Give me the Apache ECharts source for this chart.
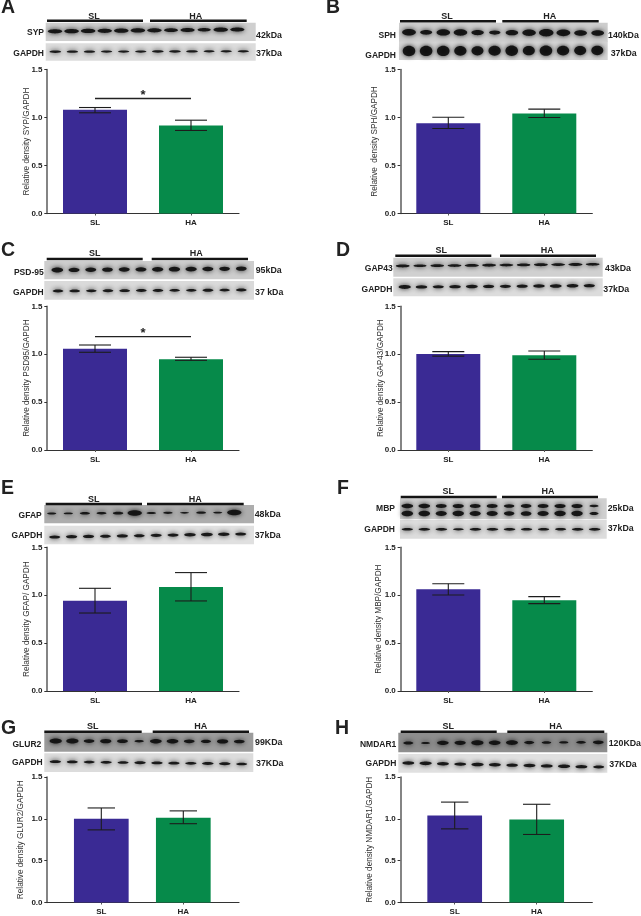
<!DOCTYPE html>
<html><head><meta charset="utf-8">
<script src="https://cdn.jsdelivr.net/npm/echarts@6/dist/echarts.min.js"></script>
<style>html,body{margin:0;padding:0;background:#fff}#c{width:641px;height:916px}</style></head>
<body><div id="c"></div>
<script>
// ---- data ----
const categories = ['SL', 'HA'];
const panelLetters = ['A','B','C','D','E','F','G','H'];
const yTitles = ['Relative density SYP/GAPDH','Relative  density SPH/GAPDH','Relative density PSD95/GAPDH','Relative density GAP43/GAPDH','Relative density GFAP/ GAPDH','Relative density MBP/GAPDH','Relative density GLUR2/GAPDH','Relative density NMDAR1/GAPDH'];
const means = [[1.08,0.917],[0.941,1.042],[1.058,0.947],[1.002,0.988],[0.943,1.086],[1.062,0.947],[1.0,1.013],[1.04,0.993]];
const upper = [[1.104,0.972],[1.003,1.087],[1.096,0.968],[1.027,1.034],[1.072,1.236],[1.12,0.985],[1.13,1.095],[1.2,1.174]];
const lower = [[1.049,0.865],[0.885,1.0],[1.02,0.936],[0.98,0.947],[0.814,0.94],[1.002,0.912],[0.868,0.942],[0.88,0.813]];
const yTicks = ['0.0','0.5','1.0','1.5'];
const sigLevel = [1.198,null,1.183,null,null,null,null,null];
const targets = ['SYP','SPH','PSD-95','GAP43','GFAP','MBP','GLUR2','NMDAR1'];
const targetKda = ['42kDa','140kDa','95kDa','43kDa','48kDa','25kDa','99KDa','120KDa'];
const gapdhKda = ['37kDa','37kDa','37 kDa','37kDa','37kDa','37kDa','37KDa','37KDa'];
// relative band density per lane (read by eye)
const targetBands = [
 [1,1,1,1,1,1,1,.9,.95,.8,1,.95],
 [.9,.65,.85,.85,.7,.55,.7,.85,1,.9,.75,.75],
 [1,.9,.9,.85,.9,.9,.95,.95,.95,.9,.85,.85],
 [.9,.8,.85,.9,.95,.9,.9,.85,.9,.95,.95,.9],
 [.45,.45,.6,.55,.65,1.3,.5,.5,.4,.55,.45,1.3],
 [1,1,.9,.95,.9,.9,.8,.85,.9,.95,.95,.55],
 [.95,.95,.7,.8,.7,.45,.85,.85,.7,.6,.8,.7],
 [.6,.4,.85,.8,.95,.85,.9,.6,.5,.45,.55,.7]];
const gapdhBands = [
 [.85,.8,.8,.8,.8,.8,.85,.85,.85,.75,.8,.8],
 [1,1,1,.95,.9,.95,1,.9,1,.95,.9,.9],
 [.85,.85,.8,.85,.85,.85,.85,.85,.8,.9,.85,.85],
 [1,.9,.85,.9,.95,.85,.85,.85,.9,.95,.95,.85],
 [.85,.85,.85,.8,.85,.8,.85,.85,.9,.95,.9,.85],
 [.8,.85,.85,.7,.85,.85,.85,.8,.8,.75,.85,.85],
 [.85,.8,.8,.85,.8,.85,.85,.85,.85,.9,.9,.8],
 [.9,.95,.9,.9,.95,.9,.85,.9,.9,.95,.9,.75]];

// ---- layout ----
const layout = [
 {ax:47,top:69.5,bot:213.5,bw:64,cap:16,lab:16,bars:[[47,143,20.7],[150,246.7,20.7]],sl:[94,16.7],ha:[195.7,16.7],
  r1:[45.7,255.7,22.7,41,'#cfcfcf'],r2:[45.7,255.7,43.3,60.7,'#dcdcdc'],tl:[44,33],gl:[44,53.7],tk:[256,36],gk:[256,54],
  b1:[55,237.3,31.3,29.5,7.5,2.6],b2:[55.3,243.3,51.7,51.3,6.5,1.7]},
 {ax:400.3,top:69.5,bot:213.5,bw:64,cap:16,lab:22,bars:[[400,496,21.3],[502.3,598.7,21.3]],sl:[447,16.7],ha:[549.7,16.7],
  r1:[399,607.7,22.7,42,'#cdcdcd'],r2:[399,607.7,41.5,60,'#d4d4d4'],tl:[396,35.7],gl:[396,56],tk:[608,35.7],gk:[610.7,53.7],
  b1:[409,597.7,32.3,33,7.5,4.5],b2:[409,597.3,51,50.5,6.5,6.3]},
 {ax:47,top:306.3,bot:450,bw:64,cap:16,lab:16,bars:[[46.7,142.7,259],[151.7,248,259]],sl:[94.7,253.7],ha:[196.3,253.7],
  r1:[44.3,254,261,279.3,'#cdcdcd'],r2:[44.3,254,281,299.7,'#dadada'],tl:[43.7,272.7],gl:[43.7,292.3],tk:[255.7,271],gk:[255,292.3],
  b1:[57.3,241.3,270,268.7,6,3],b2:[58,241.3,291,290,6,2.1]},
 {ax:400.3,top:306.3,bot:450,bw:64,cap:16,lab:16,bars:[[395.3,491.3,255.7],[500,596,255.7]],sl:[441.3,250.7],ha:[547.3,250.7],
  r1:[393.3,602.7,257.7,276.7,'#d0d0d0'],r2:[393.3,602.7,278.3,296.3,'#dcdcdc'],tl:[392.7,268.7],gl:[392.3,289.3],tk:[605,269],gk:[603.3,289.3],
  b1:[402.7,592.7,266,264.3,7.5,1.9],b2:[404.7,589.3,287,285.7,6.3,2.3]},
 {ax:47,top:547.3,bot:691,bw:64,cap:16,lab:16,bars:[[45.7,142,504],[147,243.7,504]],sl:[93.7,499.3],ha:[195.3,499.3],
  r1:[44.3,254,505,523.3,'#adadad'],r2:[44.3,254,525.7,544.3,'#e0e0e0'],tl:[41.7,515.3],gl:[42.3,535.7],tk:[254.7,515],gk:[254.7,535.7],
  b1:[51.7,234.3,513.5,512.5,6.5,2.6],b2:[54.7,240.7,537,534,6.3,2.3]},
 {ax:400.3,top:547.3,bot:691,bw:64,cap:16,lab:18,bars:[[400.7,496.7,497],[502,598,497]],sl:[448.3,491.3],ha:[548,491.3],
  r1:[400,606.7,498.3,519.3,'#cfcfcf'],r2:[400,606.7,520,538.7,'#dcdcdc'],tl:[395,508.7],gl:[395,529.3],tk:[607.7,508.3],gk:[607.7,529],
  b1:[407.3,594,506,506,6,2.7],b1b:[407.3,594,513.5,513.5,6,3.4],b2:[407.3,594.7,529.3,529.3,6.5,2]},
 {ax:47,top:777,bot:904.3,bw:54.7,cap:13.7,lab:22,barsOffset:54.3,bars:[[44.3,141.7,731.7],[152.7,249,731.7]],sl:[92.7,726.7],ha:[200.7,726.7],
  r1:[44.3,253.3,732.7,751.7,'#9c9c9c'],r2:[44.3,253.3,753.3,772,'#dcdcdc'],tl:[41.3,744.7],gl:[42.7,762.7],tk:[255,742.7],gk:[256,763.7],
  b1:[55.7,239.3,741,741.5,6.5,3.2],b2:[55.3,241.7,761.7,764,6.3,2]},
 {ax:400.3,top:777,bot:904.3,bw:54.7,cap:13.7,lab:27,barsOffset:54.4,bars:[[400.7,496.7,731.7],[507.3,604.3,731.7]],sl:[448.3,726.3],ha:[555.7,726.3],
  r1:[398.3,607.3,732.7,752.3,'#8e8e8e'],r2:[398.3,607.3,754,772.7,'#e0e0e0'],tl:[396.3,744.7],gl:[396.3,763.3],tk:[608.7,743.7],gk:[609.3,764.7],
  b1:[408.3,598.3,743,742.3,6.5,3.2],b2:[408.3,598.7,763,767,6.5,2.3]}
];
const FONT = '"Liberation Sans", Arial, sans-serif';
const graphics = [], grids = [], xAxes = [], yAxes = [], series = [];
const panelLetterPos = [[1,8],[326,8],[1,250.7],[336,250.7],[1,489],[337,489],[1,729],[335,729]];

function txt(s, x, y, align, size, weight){
  graphics.push({type:'text', silent:true, z:5, x:x, y:y, style:{text:s, textAlign:align, textVerticalAlign:'middle', fontFamily:FONT, fontSize:size, fontWeight:weight||'bold', fill:'#222'}});
}
function bands(spec, vals){
  vals.forEach((v,i)=>{
    const t=i/(vals.length-1);
    graphics.push({type:'ellipse', silent:true, z:2,
      shape:{cx:spec[0]+(spec[1]-spec[0])*t, cy:spec[2]+(spec[3]-spec[2])*t, rx:spec[4]*Math.min(1.2,0.55+0.5*v)*0.92, ry:spec[5]*v*0.82},
      style:{fill:'rgba(14,14,14,0.92)', shadowBlur:5, shadowColor:'#111'}});
  });
}
layout.forEach((p,i)=>{
  const w = 192, off = p.barsOffset || 48, sp = p.barsOffset ? 82 : 96;
  const xmin = -off/sp, xmax = (w-off)/sp;
  grids.push({left:p.ax, top:p.top, width:w, height:p.bot-p.top});
  xAxes.push({gridIndex:i, type:'value', min:xmin, max:xmax, splitLine:{show:false},
    axisLine:{onZero:false, lineStyle:{color:'#333', width:1.2}},
    axisTick:{show:true, length:2, customValues:[0,1], lineStyle:{color:'#555'}},
    axisLabel:{customValues:[0,1], margin:5.5, fontFamily:FONT, fontSize:8, fontWeight:'bold', color:'#222', formatter:v=>categories[Math.round(v)]}});
  yAxes.push({gridIndex:i, type:'value', min:0, max:1.5, interval:0.5, splitLine:{show:false},
    name:yTitles[i], nameLocation:'middle', nameGap:p.lab, nameMoveOverlap:false, nameTextStyle:{fontFamily:FONT, fontSize:8.2, color:'#333'},
    axisLine:{show:true, onZero:false, lineStyle:{color:'#666', width:1.6}},
    axisTick:{show:true, length:2.7, lineStyle:{color:'#333', width:1}},
    axisLabel:{margin:4.5, fontFamily:FONT, fontSize:8, fontWeight:'bold', color:'#222', formatter:v=>v.toFixed(1)}});
  series.push({type:'bar', xAxisIndex:i, yAxisIndex:i, barWidth:p.bw, z:2, silent:true,
    data:categories.map((c,k)=>({value:[k,means[i][k]], itemStyle:{color:k?'#068a4a':'#3a2a94'}}))});
  series.push({type:'custom', xAxisIndex:i, yAxisIndex:i, z:3, silent:true, clip:false,
    data:categories.map((c,k)=>[k,upper[i][k],lower[i][k]]),
    renderItem:(params,api)=>{
      const a=api.coord([api.value(0),api.value(1)]), b=api.coord([api.value(0),api.value(2)]), st={stroke:'#1c1c1c',lineWidth:1.1,fill:null};
      return {type:'group',children:[
        {type:'line',shape:{x1:a[0],y1:a[1],x2:b[0],y2:b[1]},style:st},
        {type:'line',shape:{x1:a[0]-p.cap,y1:a[1],x2:a[0]+p.cap,y2:a[1]},style:st},
        {type:'line',shape:{x1:a[0]-p.cap,y1:b[1],x2:a[0]+p.cap,y2:b[1]},style:st}]};
    }});
  if (sigLevel[i]!=null){
    series.push({type:'custom', xAxisIndex:i, yAxisIndex:i, z:3, silent:true, clip:false,
      data:[[0,1,sigLevel[i]]],
      renderItem:(params,api)=>{
        const a=api.coord([api.value(0),api.value(2)]), b=api.coord([api.value(1),api.value(2)]);
        return {type:'group',children:[
          {type:'line',shape:{x1:a[0],y1:a[1],x2:b[0],y2:b[1]},style:{stroke:'#222',lineWidth:1.3}},
          {type:'text',style:{text:'*',x:(a[0]+b[0])/2,y:a[1]-3,textAlign:'center',textVerticalAlign:'middle',fontFamily:FONT,fontSize:13,fontWeight:'bold',fill:'#222'}}]};
      }});
  }
  // blots
  [p.r1,p.r2].forEach(r=>graphics.push({type:'rect',silent:true,z:1,shape:{x:r[0],y:r[2],width:r[1]-r[0],height:r[3]-r[2]},style:{fill:r[4]}}));
  bands(p.b1,targetBands[i]); if(p.b1b) bands(p.b1b,targetBands[i]); bands(p.b2,gapdhBands[i]);
  p.bars.forEach(b=>graphics.push({type:'rect',silent:true,z:3,shape:{x:b[0],y:b[2]-1.2,width:b[1]-b[0],height:2.4},style:{fill:'#141414'}}));
  txt(categories[0],p.sl[0],p.sl[1],'center',9);
  txt(categories[1],p.ha[0],p.ha[1],'center',9);
  txt(targets[i],p.tl[0],p.tl[1],'right',8.5);
  txt('GAPDH',p.gl[0],p.gl[1],'right',8.5);
  txt(targetKda[i],p.tk[0],p.tk[1],'left',8.8);
  txt(gapdhKda[i],p.gk[0],p.gk[1],'left',8.8);
  txt(panelLetters[i],panelLetterPos[i][0],panelLetterPos[i][1],'left',19.5);
});
const chart = echarts.init(document.getElementById('c'),null,{renderer:'canvas'});
chart.setOption({animation:false, backgroundColor:'#fff', grid:grids, xAxis:xAxes, yAxis:yAxes, series:series, graphic:{elements:graphics}});
</script></body></html>
